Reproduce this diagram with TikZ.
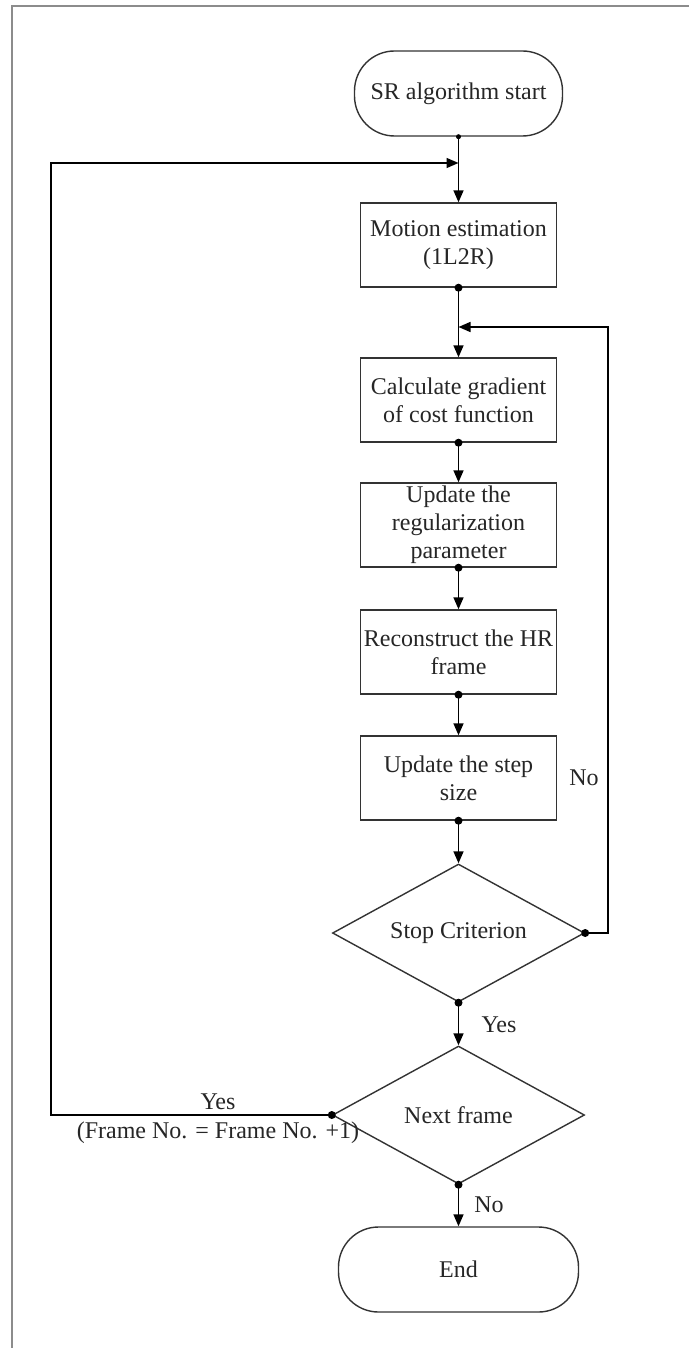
\documentclass[tikz,border=0pt]{standalone}
\usepackage{fontspec}
\setmainfont{Liberation Serif}
\usetikzlibrary{shapes.geometric,arrows.meta}
\begin{document}
\begin{tikzpicture}[x=1pt,y=-1pt,
  every node/.style={font=\fontsize{24}{28}\selectfont, text=black!85},
  proc/.style={draw=black!80, line width=1.4pt, minimum width=196pt, minimum height=84pt, inner sep=0pt, align=center},
  term/.style={draw=black!80, line width=1.4pt, rounded corners=40pt, minimum width=#1, minimum height=85pt, inner sep=0pt, align=center},
  decide/.style={draw=black!80, line width=1.4pt, diamond, aspect=1.8, minimum width=252pt, minimum height=138pt, inner sep=0pt},
  flow/.style={line width=1.5pt, -{Triangle[length=12pt,width=10pt]}},
  joint/.style={fill=black}
]
\useasboundingbox (0,0) rectangle (688,1348);
\fill[white] (0,0) rectangle (688,1348);
% page frame
\draw[black!45, line width=2.5pt] (12,1352) -- (12,6) -- (692,6);

% nodes
\node[term=208pt] (start) at (458.5,93.5) {SR algorithm start};
\node[proc] (motion) at (458.5,245) {Motion estimation\\(1L2R)};
\node[proc] (calc) at (458.5,400) {Calculate gradient\\of cost function};
\node[proc] (upd) at (458.5,525) {Update the\\regularization\\parameter};
\node[proc] (recon) at (458.5,652) {Reconstruct the HR\\frame};
\node[proc] (stepsz) at (458.5,778) {Update the step\\size};
\node[decide] (stop) at (458.5,933) {Stop Criterion};
\node[decide] (next) at (458.5,1115) {Next frame};
\node[term=240pt] (end) at (458.5,1269.5) {End};

\coordinate (fb) at (458.5,163);
\coordinate (nl) at (458.5,327);

% connectors
\draw[flow] (start.south) -- (motion.north);
\draw[flow] (motion.south) -- (calc.north);
\draw[flow] (calc.south) -- (upd.north);
\draw[flow] (upd.south) -- (recon.north);
\draw[flow] (recon.south) -- (stepsz.north);
\draw[flow] (stepsz.south) -- (stop.north);
\draw[flow] (stop.south) -- (next.north);
\draw[flow] (next.south) -- (end.north);
\draw[flow] (stop.east) -- ++(23,0) |- (nl);
\draw[flow] (next.west) -- ++(-281,0) |- (fb);

% joints
\fill[joint] (start.south) circle (2.5pt);
\foreach \p in {motion.south,calc.south,upd.south,recon.south,stepsz.south,stop.east,stop.south,next.west,next.south}
  \fill[joint] (\p) circle (4pt);

% labels
\node (lno1) at (584,778) {No};
\node (lyes1) at (499,1025) {Yes};
\node (lno2) at (489,1205) {No};
\node (lyes2) at (218,1102) {Yes};
\node (lframe) at (218,1133) {(Frame No. = Frame No. +1)};
\end{tikzpicture}
\end{document}
